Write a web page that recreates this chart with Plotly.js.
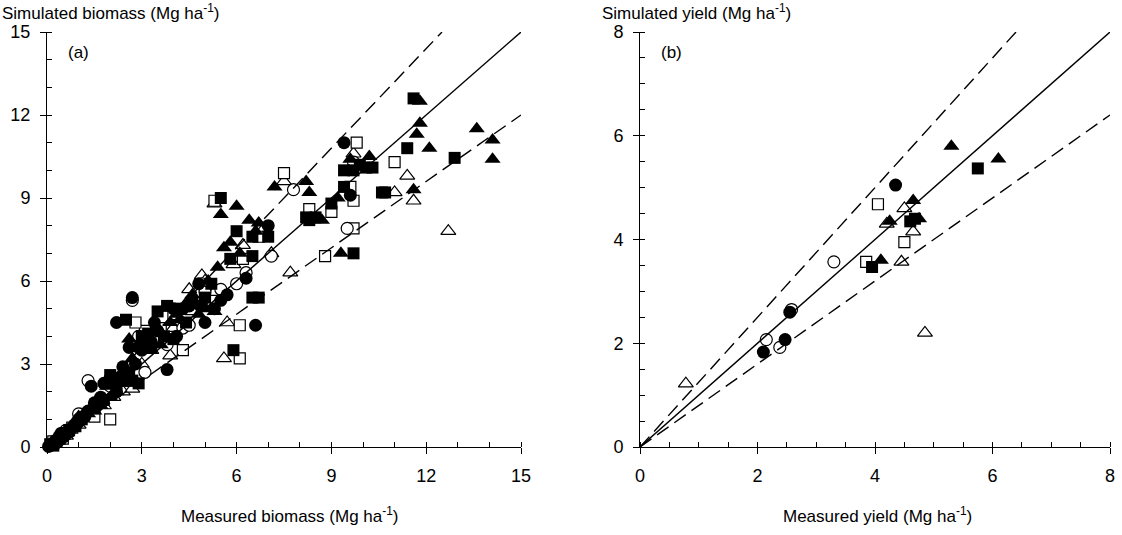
<!DOCTYPE html>
<html><head><meta charset="utf-8">
<script src="https://cdn.plot.ly/plotly-3.0.1.min.js"></script>
<style>html,body{margin:0;padding:0;background:#fff}#chart{width:1122px;height:535px}</style>
</head><body><div id="chart"></div>
<script>
// ---- Panel (a): biomass, [measured, simulated] ----
const bioFilledCircle = [[0.05,0.02],[0.1,0.05],[0.15,0.1],[0.2,0.15],[0.25,0.1],[0.3,0.25],[0.35,0.2],[0.4,0.3],[0.45,0.5],[0.5,0.35],[0.6,0.45],[0.7,0.55],[0.8,0.7],[0.9,0.8],[1.0,0.9],[1.2,1.1],[1.3,1.3],[1.5,1.6],[1.6,1.5],[1.7,1.8],[1.4,2.2],[1.8,2.3],[2.0,2.5],[2.2,2.0],[2.5,2.5],[2.2,4.5],[2.7,5.4],[2.6,3.6],[2.8,3.0],[2.9,3.6],[3.1,3.9],[3.3,3.8],[3.4,4.5],[3.5,4.2],[3.8,2.8],[4.0,5.0],[4.1,4.0],[4.3,5.0],[4.5,5.1],[5.0,4.5],[5.3,5.0],[5.5,5.3],[5.7,5.5],[6.6,4.4],[6.3,6.1],[7.0,8.0],[9.4,11.0],[9.6,9.1],[4.8,5.9],[3.0,3.5],[2.4,2.9],[1.0,1.0]];
const bioOpenCircle = [[0.2,0.1],[0.4,0.4],[1.3,2.4],[2.7,5.3],[3.1,2.7],[2.9,4.0],[4.3,4.3],[4.9,5.9],[5.0,5.6],[6.0,5.9],[6.3,6.3],[7.1,6.9],[7.8,9.3],[9.5,7.9],[9.7,10.3],[4.5,4.4],[3.8,3.7],[2.0,2.2],[1.0,1.2],[0.6,0.6],[5.5,5.7]];
const bioFilledSquare = [[0.1,0.1],[0.2,0.05],[0.3,0.2],[0.4,0.3],[0.5,0.4],[0.7,0.6],[0.9,0.75],[1.1,1.0],[1.5,1.4],[1.8,1.7],[2.0,2.6],[2.2,2.3],[2.3,2.5],[2.6,2.7],[2.7,2.4],[2.9,2.3],[2.5,4.6],[3.0,4.0],[3.2,4.1],[3.3,3.6],[3.5,4.9],[3.7,4.0],[3.8,5.1],[4.0,3.9],[4.2,5.0],[4.4,4.5],[4.6,5.2],[4.9,5.1],[5.0,5.4],[5.2,5.9],[5.5,9.0],[5.9,3.5],[5.8,6.8],[6.0,7.8],[6.5,6.9],[6.5,7.6],[6.5,5.4],[6.7,5.4],[7.0,7.6],[8.2,8.3],[8.5,8.3],[8.3,8.2],[9.0,8.8],[9.4,9.4],[9.4,10.0],[9.7,10.0],[9.9,10.2],[10.1,10.1],[10.3,10.1],[10.6,9.2],[10.7,9.2],[11.4,10.8],[11.6,12.6],[12.9,10.45],[9.7,7.0]];
const bioOpenSquare = [[0.2,0.2],[0.5,0.3],[0.8,0.7],[1.2,1.2],[1.5,1.1],[2.0,1.0],[2.4,2.4],[3.1,4.2],[2.8,4.5],[4.0,4.8],[4.3,3.5],[6.1,4.4],[6.1,3.2],[5.3,8.9],[6.7,7.6],[6.2,6.8],[7.5,9.9],[8.3,8.6],[9.0,8.5],[9.6,9.4],[9.7,8.9],[9.7,7.9],[8.8,6.9],[9.8,11.0],[11.0,10.3],[5.0,5.3],[3.6,4.3]];
const bioFilledTriangle = [[0.1,0.1],[0.2,0.15],[0.3,0.3],[0.45,0.4],[0.6,0.5],[0.8,0.8],[1.0,1.1],[1.3,1.2],[1.5,1.3],[1.7,1.5],[1.9,2.2],[2.0,1.8],[2.2,2.0],[2.3,2.6],[2.5,2.3],[2.7,3.2],[2.6,3.9],[3.0,3.9],[3.3,3.8],[3.5,4.3],[3.6,3.7],[3.9,4.5],[4.1,4.8],[4.2,4.6],[4.4,5.2],[4.6,5.5],[4.8,4.8],[5.0,5.0],[5.1,6.0],[5.3,4.9],[5.4,6.5],[5.5,8.4],[5.6,7.2],[5.8,7.4],[6.0,8.7],[6.1,7.0],[6.4,8.2],[6.6,7.8],[6.7,8.1],[8.2,9.6],[8.3,9.2],[8.7,8.2],[9.2,9.0],[9.3,7.0],[9.6,10.4],[10.2,10.5],[11.6,9.3],[11.7,11.3],[11.8,11.7],[12.1,10.8],[11.8,12.5],[13.6,11.5],[14.1,11.1],[14.1,10.4],[7.2,9.4]];
const bioOpenTriangle = [[0.2,0.2],[0.6,0.4],[1.0,0.8],[1.4,1.3],[1.8,1.5],[2.1,1.8],[2.4,2.0],[2.7,2.1],[3.0,3.0],[3.3,3.5],[3.9,3.3],[4.0,4.3],[4.5,5.7],[4.6,4.9],[4.9,6.2],[5.0,6.0],[5.3,8.8],[5.6,3.2],[5.7,4.5],[5.3,5.6],[5.9,6.6],[6.2,7.3],[6.8,7.8],[7.1,7.0],[7.5,9.6],[7.7,6.3],[8.3,8.5],[9.7,10.6],[11.0,9.2],[11.4,9.8],[11.6,8.9],[12.7,7.8]];

// ---- Panel (b): yield, [measured, simulated] ----
const yldFilledCircle = [[2.1,1.83],[2.47,2.07],[2.55,2.6],[4.35,5.05]];
const yldOpenCircle = [[2.15,2.07],[2.38,1.92],[2.58,2.65],[3.3,3.57]];
const yldFilledSquare = [[3.95,3.47],[4.6,4.35],[4.68,4.4],[5.75,5.37]];
const yldOpenSquare = [[3.85,3.57],[4.05,4.68],[4.5,3.95]];
const yldFilledTriangle = [[4.1,3.6],[4.25,4.35],[4.65,4.75],[4.75,4.4],[5.3,5.8],[6.1,5.55]];
const yldOpenTriangle = [[0.78,1.22],[4.2,4.3],[4.45,3.57],[4.5,4.6],[4.65,4.15],[4.85,2.2]];

// reference lines: 1:1 and upper / lower bounds
const bioMax = 15, yldMax = 8;
const bioUpper = 1.2, bioLower = 0.8;
const yldUpper = 1.25, yldLower = 0.8;

const FONT = 'Liberation Sans, Arial, sans-serif';
function pts(arr, sym, filled, size, xa, ya){
  return {x: arr.map(p=>p[0]), y: arr.map(p=>p[1]), type:'scatter', mode:'markers',
    xaxis:xa, yaxis:ya, cliponaxis:false, hoverinfo:'skip', showlegend:false,
    marker:{symbol:sym, size:size, color: filled?'#000':'#fff', line:{color:'#000', width: filled?0:1.2}}};
}
function line(max, slope, dash, xa, ya){
  const xe = Math.min(max, max/slope);
  return {x:[0, xe], y:[0, xe*slope], type:'scatter', mode:'lines', xaxis:xa, yaxis:ya,
    hoverinfo:'skip', showlegend:false, line:{color:'#000', width:1.4, dash:dash}};
}
const DASH = '14px,7px';
const traces = [
  pts(bioOpenTriangle,'triangle-up',false,13,'x','y'),
  pts(bioOpenSquare,'square',false,11,'x','y'),
  pts(bioOpenCircle,'circle',false,12,'x','y'),
  pts(bioFilledTriangle,'triangle-up',true,14,'x','y'),
  pts(bioFilledSquare,'square',true,12,'x','y'),
  pts(bioFilledCircle,'circle',true,13,'x','y'),
  line(bioMax,1,'solid','x','y'),
  line(bioMax,bioUpper,DASH,'x','y'),
  line(bioMax,bioLower,DASH,'x','y'),
  pts(yldOpenTriangle,'triangle-up',false,13,'x2','y2'),
  pts(yldOpenSquare,'square',false,11,'x2','y2'),
  pts(yldOpenCircle,'circle',false,12,'x2','y2'),
  pts(yldFilledTriangle,'triangle-up',true,14,'x2','y2'),
  pts(yldFilledSquare,'square',true,12,'x2','y2'),
  pts(yldFilledCircle,'circle',true,13,'x2','y2'),
  line(yldMax,1,'solid','x2','y2'),
  line(yldMax,yldUpper,DASH,'x2','y2'),
  line(yldMax,yldLower,DASH,'x2','y2')
];
const W=1122, H=535;
function ax(domain, max, dtick, minor, anchor){
  return {domain:domain, range:[0,max], anchor:anchor, tickmode:'linear', tick0:0, dtick:dtick,
    ticks:'outside', ticklen:6, tickwidth:1, tickcolor:'#000', showline:true, linecolor:'#000', linewidth:1,
    ticklabelstandoff:6,
    showgrid:false, zeroline:false, fixedrange:true, tickfont:{family:FONT, size:18, color:'#000'},
    minor:{dtick:minor, ticks:'inside', ticklen:5, tickwidth:1, tickcolor:'#000', showgrid:false}};
}
const yDom = [(H-447)/H, (H-32)/H];
const layout = {
  width:W, height:H, margin:{l:0,r:0,t:0,b:0}, paper_bgcolor:'#fff', plot_bgcolor:'rgba(0,0,0,0)',
  showlegend:false, font:{family:FONT, color:'#000'},
  xaxis: ax([47/W, 521/W], bioMax, 3, 1, 'y'),
  yaxis: ax(yDom, bioMax, 3, 1, 'x'),
  xaxis2: ax([640/W, 1110/W], yldMax, 2, 0.5, 'y2'),
  yaxis2: ax(yDom, yldMax, 2, 0.5, 'x2'),
  annotations:[
    {text:'Simulated biomass (Mg ha<sup>-1</sup>)', xref:'paper', yref:'paper', x:0, y:1-12/H, xanchor:'left', yanchor:'middle', showarrow:false, font:{size:17}},
    {text:'Measured biomass (Mg ha<sup>-1</sup>)', xref:'paper', yref:'paper', x:290/W, y:1-515/H, xanchor:'center', yanchor:'middle', showarrow:false, font:{size:17}},
    {text:'Simulated yield (Mg ha<sup>-1</sup>)', xref:'paper', yref:'paper', x:600/W, y:1-12/H, xanchor:'left', yanchor:'middle', showarrow:false, font:{size:17}},
    {text:'Measured yield (Mg ha<sup>-1</sup>)', xref:'paper', yref:'paper', x:878/W, y:1-515/H, xanchor:'center', yanchor:'middle', showarrow:false, font:{size:17}},
    {text:'(a)', xref:'paper', yref:'paper', x:66/W, y:1-52/H, xanchor:'left', yanchor:'middle', showarrow:false, font:{size:17}},
    {text:'(b)', xref:'paper', yref:'paper', x:659/W, y:1-52/H, xanchor:'left', yanchor:'middle', showarrow:false, font:{size:17}}
  ]
};
Plotly.newPlot('chart', traces, layout, {displayModeBar:false, staticPlot:true});
</script></body></html>
